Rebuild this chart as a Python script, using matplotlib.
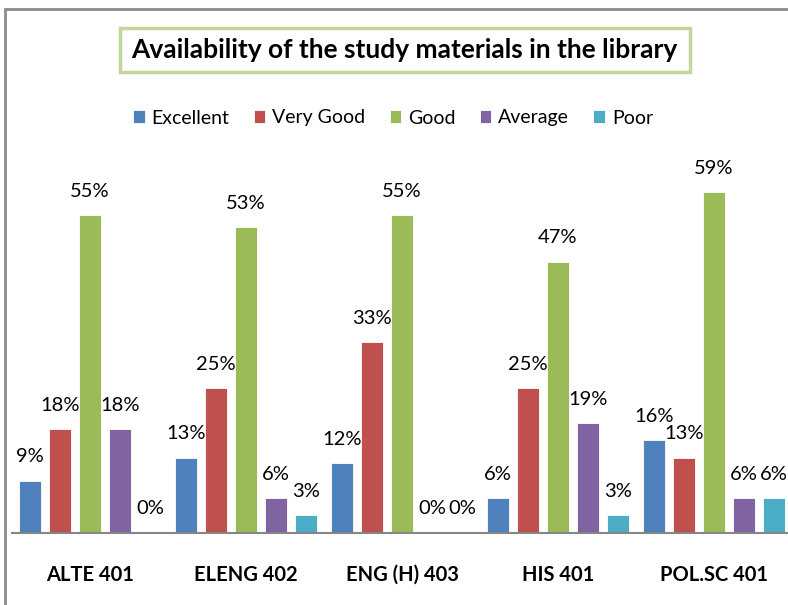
import matplotlib
matplotlib.use("Agg")
import matplotlib.pyplot as plt
from matplotlib.patches import Rectangle
import numpy as np

categories = ["ALTE 401", "ELENG 402", "ENG (H) 403", "HIS 401", "POL.SC 401"]
series_names = ["Excellent", "Very Good", "Good", "Average", "Poor"]
excellent = [9, 13, 12, 6, 16]
very_good = [18, 25, 33, 25, 13]
good = [55, 53, 55, 47, 59]
average = [18, 6, 0, 19, 6]
poor = [0, 3, 0, 3, 6]
series_values = [excellent, very_good, good, average, poor]
colors = ["#4F81BD", "#C0504D", "#9BBB59", "#8064A2", "#4BACC6"]

plt.rcParams['font.family'] = ['Lato', 'DejaVu Sans']

W, H = 788, 605
fig = plt.figure(figsize=(W / 100, H / 100), dpi=100)

# outer chart border (cropped at right/bottom)
fig.patches.append(Rectangle((5 / W, -0.1), 1.2, 1 - 9 / H + 0.1, transform=fig.transFigure,
                             fill=False, edgecolor="#8c8c8c", linewidth=2, zorder=0))

# axes: left at 12px, right 792px, baseline at y=532.7, 5.77 px per %
ymax = 70
ax_left = 12 / W
ax_w = 780 / W
ax_bottom = (H - 532.7) / H
ax_h = ymax * 5.77 / H
ax = fig.add_axes([ax_left, ax_bottom, ax_w, ax_h])
ax.set_xlim(-0.5, len(categories) - 0.5)
ax.set_ylim(0, ymax)

x = np.arange(len(categories))
step = 30 / 156
width = 22 / 156
handles = []
for i, (name, vals, c) in enumerate(zip(series_names, series_values, colors)):
    pos = x + (i - 2) * step
    b = ax.bar(pos, vals, width=width, color=c, edgecolor="white", linewidth=0.6, label=name)
    handles.append(b)
    for p, v in zip(pos, vals):
        ax.annotate(f"{v}%", (p, v), xytext=(0, 11), textcoords="offset points",
                    ha="center", va="bottom", fontsize=14.5, color="black")

for s in ["top", "right", "left"]:
    ax.spines[s].set_visible(False)
ax.spines["bottom"].set_color("#868686")
ax.spines["bottom"].set_linewidth(1.5)
ax.set_yticks([])
ax.set_xticks(x)
ax.set_xticklabels(categories, fontsize=14.5, fontweight="bold")
ax.tick_params(axis="x", length=0, pad=23)

# title box
fig.patches.append(Rectangle((120 / W, 1 - 72 / H), 570 / W, 44 / H, transform=fig.transFigure,
                             facecolor="white", edgecolor="#c4d79b", linewidth=2.5, zorder=1))
fig.text(404 / W, 1 - 50 / H, "Availability of the study materials in the library",
         ha="center", va="center", fontsize=19, fontweight="bold", zorder=2)

fig.legend(handles=handles, labels=series_names, loc="center", bbox_to_anchor=(393 / W, 1 - 118 / H),
           ncol=5, frameon=False, fontsize=14, handlelength=0.6, handleheight=0.6,
           handletextpad=0.35, columnspacing=1.25)

fig.savefig("out.png", dpi=100)
